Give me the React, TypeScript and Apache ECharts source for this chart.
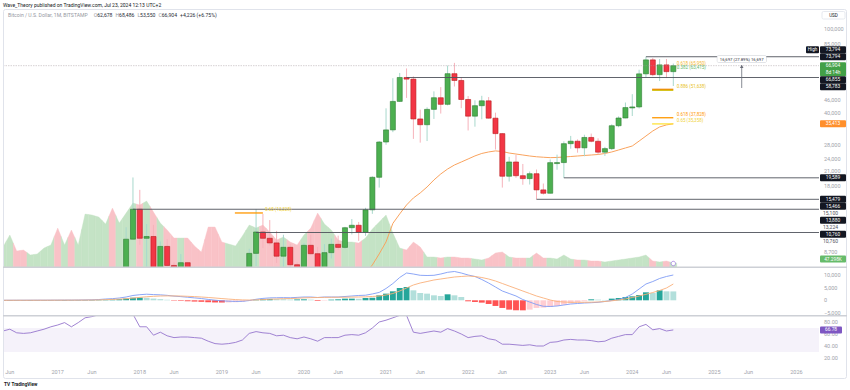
import React, { useEffect, useRef } from "react";
import * as echarts from "echarts";

const FONT = 'Roboto, "Liberation Sans", Arial, sans-serif';

// ---------------- data (month index: 0 = Jan 2016, monthly BTC/USD) ----------------
const firstMonth = 4; // May 2016

const opens = [
  448, 529, 674, 624, 573, 609, 700, 742,
  966, 965, 1190, 1080, 1348, 2300, 2480, 2875, 4700, 4340, 6450, 10000,
  13880, 10100, 10300, 6900, 9240, 7500, 6400, 7730, 7030, 6630, 6370, 4040,
  3740, 3450, 3840, 4110, 5340, 8560, 10820, 10100, 9600, 8300, 9150, 7560,
  7190, 9350, 8530, 6410, 8630, 9450, 9140, 11340, 11650, 10780, 13800, 19700,
  28990, 33110, 45240, 58800, 57750, 37330, 35040, 41460, 47100, 43820, 61300, 56900,
  46200, 38480, 43160, 45530, 37650, 31790, 19930, 23300, 20050, 19420, 20490, 17160,
  16540, 23130, 23150, 28470, 29250, 27200, 30480, 29230, 25940, 26970, 34660, 37720,
  42280, 42580, 61180, 71300, 60650, 67500, 62678,
];
const highs = [
  553, 781, 704, 626, 628, 720, 755, 979,
  1161, 1211, 1290, 1350, 2760, 3000, 2950, 4750, 4980, 6470, 11400, 19666,
  17170, 11800, 11700, 9750, 10000, 7760, 8500, 7750, 7400, 6800, 6550, 4240,
  4100, 4200, 4140, 5640, 9000, 13880, 13200, 12330, 10950, 10500, 9500, 7750,
  9580, 10500, 9190, 9470, 10070, 10400, 11450, 12470, 12080, 14100, 19900, 29300,
  41950, 58350, 61780, 64900, 59500, 41330, 42400, 50500, 52900, 67000, 69000, 59100,
  47990, 45800, 48100, 47450, 40000, 31950, 24650, 25200, 22800, 20990, 21450, 18400,
  23960, 25250, 29200, 31000, 29850, 31400, 31800, 30200, 27500, 35200, 38400, 44700,
  48970, 64000, 73794, 72800, 71950, 72000, 68486,
];
const lows = [
  436, 519, 468, 465, 570, 605, 680, 740,
  751, 919, 880, 1060, 1345, 2100, 1830, 2690, 2980, 4100, 5500, 9950,
  9400, 5900, 6600, 6430, 7050, 5750, 6070, 5880, 6100, 6100, 3650, 3120,
  3350, 3380, 3750, 4090, 5330, 7450, 9070, 9330, 7710, 7300, 6520, 6430,
  6860, 8450, 3850, 6150, 8100, 8900, 8980, 10530, 9820, 10380, 13200, 17600,
  28130, 32300, 45000, 47000, 30000, 28800, 29300, 37330, 39600, 43300, 53250, 42000,
  32900, 34300, 37200, 37500, 26700, 17600, 18800, 19600, 18150, 18200, 15479, 16300,
  16500, 21400, 19589, 26950, 25800, 24800, 28900, 25300, 24900, 26550, 34100, 37600,
  38550, 41880, 59000, 59600, 56550, 58400, 53550,
];
const closes = [
  529, 674, 624, 573, 609, 700, 742, 966,
  965, 1190, 1080, 1348, 2300, 2480, 2875, 4700, 4340, 6450, 10000, 13880,
  10100, 10300, 6900, 9240, 7500, 6400, 7730, 7030, 6630, 6370, 4040, 3740,
  3450, 3840, 4110, 5340, 8560, 10820, 10100, 9600, 8300, 9150, 7560, 7190,
  9350, 8530, 6410, 8630, 9450, 9140, 11340, 11650, 10780, 13800, 19700, 28990,
  33110, 45240, 58800, 57750, 37330, 35040, 41460, 47100, 43820, 61300, 56900, 46200,
  38480, 43160, 45530, 37650, 31790, 19930, 23300, 20050, 19420, 20490, 17160, 16540,
  23130, 23150, 28470, 29250, 27200, 30480, 29230, 25940, 26970, 34660, 37720, 42280,
  42580, 61180, 71300, 60650, 67500, 62678, 66904,
];
// volume, thousands of BTC
const volumesK = [
  236, 378, 189, 200, 142, 153, 224, 260,
  460, 260, 437, 260, 625, 614, 590, 507, 696, 519, 637, 755,
  732, 779, 649, 519, 437, 342, 342, 342, 248, 177, 472, 472,
  295, 271, 248, 366, 496, 460, 496, 413, 319, 354, 295, 260,
  378, 460, 637, 507, 437, 319, 295, 295, 283, 342, 448, 531,
  614, 401, 224, 200, 295, 236, 118, 118, 106, 118, 118, 106,
  106, 94, 83, 106, 165, 177, 118, 106, 106, 106, 165, 106,
  106, 94, 142, 94, 83, 83, 71, 71, 59, 71, 83, 94,
  106, 118, 142, 71, 59, 71, 47.298,
];
const maFirstMonth = 56;
const maValues = [
  6300, 6900, 7540, 8510, 9710, 11890, 13190, 14550, 15710, 16600, 17720, 19130, 20430, 21570,
  22540, 23290, 24080, 24900, 25580, 26000, 26300, 26130, 25700, 25420, 25150, 24880, 24670,
  24540, 24430, 24480, 24610, 24740, 24880, 25020, 25150, 25290, 25570, 26000, 26570, 27160,
  27760, 29300, 30960, 32720, 34200, 34960, 35413,
];
const macdLine = [
  10, 20, 30, 35, 40, 45, 50, 60, 70, 80, 90, 110, 150,
  200, 300, 500, 650, 900, 1300, 1900, 2200, 2400, 2250, 2150, 1950, 1650, 1450, 1200, 950, 700,
  350, 50, -200, -350, -450, -400, -100, 400, 750, 950, 1000, 1050, 1000, 1150,
  1300, 1300, 1100, 1300, 1300, 1300, 1500, 1700, 1900, 2000,
  2500, 3100, 4650, 6600, 9000, 10750, 10350, 9850, 9770, 9850,
  10350, 11030, 11350, 10750, 9970, 9380, 8200, 6800, 5240, 3660,
  2680, 1700, 300, -670, -1650, -2360, -2440, -2250, -1850, -1460,
  -1260, -1060, -950, -790, -470, -80, 300, 1100, 2480, 4450,
  6420, 7400, 8600, 9380, 9970,
];
const macdSignal = [
  5, 10, 15, 20, 25, 30, 35, 40, 45, 55, 60, 70, 85, 110, 150,
  250, 350, 460, 630, 880, 1150, 1400, 1570, 1690, 1740, 1720, 1670, 1575, 1450, 1300,
  1110, 900, 680, 475, 290, 150, 100, 160, 280, 410, 530, 630, 700, 800,
  950, 1050, 1100, 1150, 1180, 1200, 1220, 1260, 1300, 1350,
  1500, 1690, 2090, 2680, 3660, 4850, 6030, 6820, 7400, 8000,
  8390, 8790, 9180, 9380, 9570, 9380, 8980, 8390, 7600, 6620,
  5630, 4650, 3660, 2680, 1690, 900, 120, -470, -670, -790,
  -790, -790, -750, -670, -470, -200, 120, 510, 1100, 1690,
  2360, 3070, 3860, 4850, 6420,
];
const macdHist = [
  5, 10, 15, 15, 15, 15, 15, 20, 25, 25, 30, 40, 65,
  100, 150, 250, 300, 440, 670, 1020, 1050, 1000, 680, 460, 210, -70, -220, -375, -500, -600,
  -760, -850, -880, -825, -740, -550, -200, 240, 470, 540, 470, 420, 300, 350,
  393, 262, -262, -131, 262, 393, 655, 655, 600, 917,
  1000, 1965, 2620, 3537, 4847, 5240, 3930, 2882, 2620, 1965,
  1703, 2358, 1965, 1310, -393, -655, -917, -1441, -2227, -3013,
  -3668, -3930, -3950, -3668, -3013, -2882, -2620, -2227, -1703, -1179,
  -786, -393, 393, 262, 131, 655, 917, 1310, 1572, 2096,
  3144, 2882, 3930, 3537, 3500,
];
const rsiValues = [
  65, 68, 62, 61, 62, 65, 68, 72,
  75, 79, 72, 79, 87, 89, 92, 94, 91, 94, 96, 93,
  72, 72, 58, 63, 57, 54, 55, 55, 54, 53, 48, 44,
  43, 44, 46, 50, 61, 64, 62, 61, 57, 58, 54, 52,
  55, 52, 48, 54, 54, 54, 58, 59, 58, 62, 70, 80,
  83, 87, 91, 91, 63, 61, 63, 65, 63, 69, 65, 60,
  54, 56, 57, 52, 50, 43, 43, 42, 41, 42, 40, 40,
  46, 47, 50, 51, 50, 50, 49, 47, 48, 53, 56, 59,
  59, 72, 76, 67, 69, 65, 66.78,
];

const priceTicks = [100000, 85000, 46000, 40000, 28000, 24000, 21000, 18000, 8700];
const macdTicks = [10000, 5000, 0, -5000];
const rsiTicks = [80, 60, 40, 20];
const xTickMonths = [5, 12, 17, 24, 29, 36, 41, 48, 53, 60, 65, 72, 77, 84, 89, 96, 101, 108, 113, 120];
const xTickLabels = ["Jun", "2017", "Jun", "2018", "Jun", "2019", "Jun", "2020", "Jun", "2021",
  "Jun", "2022", "Jun", "2023", "Jun", "2024", "Jun", "2025", "Jun", "2026"];

const rayStartMonths = [98, 63, 86, 82, 23, 41];
const rayPrices = [73794, 58783, 19589, 15479, 13880, 10760];
const lastPrice = 66904;

const labelPrices = [73794, 73794, 66904, 66855, 58783, 35413, 19589, 15479, 15466, 15100, 13880, 13224, 10760, 10760];
const labelKinds = ["high", "line", "last", "line", "line", "ma", "line", "line", "line", "plain", "line", "plain", "line", "plain"];
const countdown = "8d 14h";

const fibTexts = ["0.618 (65,950)", "0.382 (63,415)", "0.886 (51,638)", "0.618 (37,828)", "0.65 (35,358)", "0.65 (13,328)"];
const fibPrices = [65950, 63415, 51638, 37828, 35358, 13328];
const fibTextMonths = [102.5, 102.5, 102.5, 102.5, 102.5, 42.3];
const fibBarPrices = [51638, 51100, 37828, 35358, 13328];
const fibBarFrom = [98.9, 98.9, 98.9, 98.9, 37.9];
const fibBarTo = [102, 102, 102, 102, 42];

const measureMonth = 112;
const measureFrom = 52400;
const measureTo = 67400;
const measureText = "16,697 (27.89%) 16,697";

const headerText = "Wave_Theory published on TradingView.com, Jul 23, 2024 12:13 UTC+2";
const symbolText = "Bitcoin / U.S. Dollar, 1M, BITSTAMP";
const ohlcText = ["O", "62,678", "H", "68,486", "L", "53,550", "C", "66,904", "+4,226 (+6.75%)"];

// ---------------- styles ----------------
const UP = "#4caf50", UP_BORDER = "#2e7d32", DOWN = "#f23645", DOWN_BORDER = "#b71c1c";
const WICK_UP = "#a8d8cc", WICK_DOWN = "#f6b3bb";
const VOL_UP = "#c4e3c5", VOL_DOWN = "#f9c2c7";
const fibTextColors = ["#f5b82e", "#66bb6a", "#e8c21e", "#ff9800", "#f0d23a", "#f0d23a"];
const fibBarColors = ["#f57c00", "#d4bf10", "#ff9800", "#ffe33a", "#ff9800"];
const AXIS_TXT = "#a0a3ab";

const lg = (v: number) => Math.log10(v);
const LOG_MIN = 3.8677, LOG_MAX = 5.0999;
const fmt = (v: number) => Math.round(v).toLocaleString("en-US");

function histColor(i: number) {
  const v = macdHist[i];
  const p = i > 0 ? macdHist[i - 1] : 0;
  if (v >= 0) return v >= p ? "#26a69a" : "#b2dfdb";
  return v < p ? "#ff5252" : "#ffcdd2";
}

function buildOption() {
  const months = opens.map((_, i) => firstMonth + i);
  const gridBase = { left: 3, right: 31 };
  const xAx = (g: number) => ({
    type: "value", gridIndex: g, min: 4, max: 123.3,
    axisLine: { show: false }, axisTick: { show: false }, splitLine: { show: false },
    axisLabel: g === 2 ? {
      customValues: xTickMonths,
      formatter: (v: number) => xTickLabels[xTickMonths.indexOf(Math.round(v))] ?? "",
      color: AXIS_TXT, fontSize: 5.5, fontFamily: FONT, margin: 3,
    } : { show: false },
  });
  const yHidden = { axisLine: { show: false }, axisTick: { show: false }, splitLine: { show: false } };
  return {
    animation: false,
    grid: [
      { ...gridBase, top: 8, height: 259 },
      { ...gridBase, top: 268, height: 47 },
      { ...gridBase, top: 316, height: 50 },
    ],
    xAxis: [xAx(0), xAx(1), xAx(2)],
    yAxis: [
      {
        type: "value", gridIndex: 0, position: "right", min: LOG_MIN, max: LOG_MAX, ...yHidden,
        axisLabel: {
          customValues: priceTicks.map(lg),
          formatter: (v: number) => fmt(Math.pow(10, v)),
          color: AXIS_TXT, fontSize: 5.5, fontFamily: FONT, margin: 5,
        },
      },
      { type: "value", gridIndex: 0, min: 0, max: 3060, show: false, ...yHidden },
      {
        type: "value", gridIndex: 1, position: "right", min: -5792, max: 12726, ...yHidden,
        axisLabel: {
          customValues: macdTicks,
          formatter: (v: number) => (v < 0 ? "\u2212" : "") + fmt(Math.abs(v)),
          color: AXIS_TXT, fontSize: 5.5, fontFamily: FONT, margin: 5,
        },
      },
      {
        type: "value", gridIndex: 2, position: "right", min: 6.67, max: 90, ...yHidden,
        axisLabel: {
          customValues: rsiTicks,
          formatter: (v: number) => v.toFixed(2),
          color: AXIS_TXT, fontSize: 5.5, fontFamily: FONT, margin: 5,
        },
      },
    ],
    series: [
      // volume area
      {
        type: "custom", xAxisIndex: 0, yAxisIndex: 1, clip: true, z: 1,
        data: volumesK.map((v, i) => [months[i], v, i > 0 ? volumesK[i - 1] : v, i < volumesK.length - 1 ? volumesK[i + 1] : v]),
        renderItem: (params: any, api: any) => {
          const x = api.value(0), v = api.value(1), pv = api.value(2), nv = api.value(3);
          const i = params.dataIndex;
          const col = closes[i] >= opens[i] ? VOL_UP : VOL_DOWN;
          const pts = [
            api.coord([x - 0.5, 0]), api.coord([x - 0.5, (v + pv) / 2]), api.coord([x, v]),
            api.coord([x + 0.5, (v + nv) / 2]), api.coord([x + 0.5, 0]),
          ];
          return { type: "polygon", shape: { points: pts }, style: { fill: col, stroke: col, lineWidth: 0.4 } };
        },
      },
      // moving average
      {
        type: "line", xAxisIndex: 0, yAxisIndex: 0, z: 3, symbol: "none",
        data: maValues.map((v, i) => [maFirstMonth + i, lg(v)]),
        lineStyle: { color: "#f9a35e", width: 1 },
      },
      // candles
      {
        type: "custom", xAxisIndex: 0, yAxisIndex: 0, clip: true, z: 4,
        data: opens.map((o, i) => [months[i], lg(o), lg(highs[i]), lg(lows[i]), lg(closes[i])]),
        renderItem: (params: any, api: any) => {
          const x = api.value(0);
          const o = api.coord([x, api.value(1)]);
          const h = api.coord([x, api.value(2)]);
          const l = api.coord([x, api.value(3)]);
          const c = api.coord([x, api.value(4)]);
          const up = api.value(4) >= api.value(1);
          const w = api.size([1, 0])[0] * 0.74;
          const top = Math.min(o[1], c[1]);
          const hgt = Math.max(Math.abs(o[1] - c[1]), 1);
          return {
            type: "group",
            children: [
              { type: "line", shape: { x1: o[0], y1: h[1], x2: o[0], y2: l[1] }, style: { stroke: up ? WICK_UP : WICK_DOWN, lineWidth: 1 } },
              { type: "rect", shape: { x: o[0] - w / 2, y: top, width: w, height: hgt }, style: { fill: up ? UP : DOWN, stroke: up ? UP_BORDER : DOWN_BORDER, lineWidth: 0.6 } },
            ],
          };
        },
      },
      // horizontal rays
      {
        type: "custom", xAxisIndex: 0, yAxisIndex: 0, clip: true, z: 5,
        data: rayStartMonths.map((m, i) => [m, lg(rayPrices[i])]),
        renderItem: (params: any, api: any) => {
          const p = api.coord([api.value(0), api.value(1)]);
          const cs = params.coordSys;
          return { type: "line", shape: { x1: p[0], y1: p[1], x2: cs.x + cs.width, y2: p[1] }, style: { stroke: "#4f525b", lineWidth: 0.9 } };
        },
      },
      // last price line
      {
        type: "custom", xAxisIndex: 0, yAxisIndex: 0, clip: true, z: 5,
        data: [[firstMonth, lg(lastPrice)]],
        renderItem: (params: any, api: any) => {
          const p = api.coord([api.value(0), api.value(1)]);
          const cs = params.coordSys;
          return { type: "line", shape: { x1: cs.x, y1: p[1], x2: cs.x + cs.width, y2: p[1] }, style: { stroke: "rgba(160,150,155,0.55)", lineWidth: 0.8, lineDash: [1.5, 1] } };
        },
      },
      // fib bars
      {
        type: "custom", xAxisIndex: 0, yAxisIndex: 0, clip: true, z: 6,
        data: fibBarPrices.map((p, i) => [fibBarFrom[i], lg(p), fibBarTo[i]]),
        renderItem: (params: any, api: any) => {
          const a = api.coord([api.value(0), api.value(1)]);
          const b = api.coord([api.value(2), api.value(1)]);
          return { type: "line", shape: { x1: a[0], y1: a[1], x2: b[0], y2: b[1] }, style: { stroke: fibBarColors[params.dataIndex], lineWidth: 1.3 } };
        },
      },
      // fib texts
      {
        type: "custom", xAxisIndex: 0, yAxisIndex: 0, clip: true, z: 6,
        data: fibPrices.map((p, i) => [fibTextMonths[i], lg(p)]),
        renderItem: (params: any, api: any) => {
          const a = api.coord([api.value(0), api.value(1)]);
          return {
            type: "text", x: a[0], y: a[1] - 3,
            style: { text: fibTexts[params.dataIndex], fill: fibTextColors[params.dataIndex], fontSize: 4.5, fontFamily: FONT, align: "left", verticalAlign: "middle" },
          };
        },
      },
      // measure tool
      {
        type: "custom", xAxisIndex: 0, yAxisIndex: 0, clip: true, z: 6,
        data: [[measureMonth, lg(measureFrom), lg(measureTo)]],
        renderItem: (params: any, api: any) => {
          const a = api.coord([api.value(0), api.value(1)]);
          const b = api.coord([api.value(0), api.value(2)]);
          return {
            type: "group",
            children: [
              { type: "line", shape: { x1: a[0], y1: a[1], x2: b[0], y2: b[1] }, style: { stroke: "#6a6d78", lineWidth: 0.8 } },
              { type: "polygon", shape: { points: [[b[0] - 1.8, b[1] + 3], [b[0], b[1]], [b[0] + 1.8, b[1] + 3]] }, style: { fill: "#6a6d78" } },
              {
                type: "text", x: b[0], y: b[1] - 6,
                style: {
                  text: measureText, fill: "#2a2e39", fontSize: 4.2, fontFamily: FONT, align: "center", verticalAlign: "middle",
                  backgroundColor: "#ffffff", borderColor: "#c9ccd3", borderWidth: 0.5, borderRadius: 1, padding: [1.2, 2.5],
                },
              },
            ],
          };
        },
      },
      // MACD histogram
      {
        type: "custom", xAxisIndex: 1, yAxisIndex: 2, clip: true, z: 2,
        data: macdHist.map((v, i) => [months[i], v]),
        renderItem: (params: any, api: any) => {
          const x = api.value(0), v = api.value(1);
          const p0 = api.coord([x, 0]);
          const p1 = api.coord([x, v]);
          const w = api.size([1, 0])[0] * 0.86;
          return {
            type: "rect",
            shape: { x: p0[0] - w / 2, y: Math.min(p0[1], p1[1]), width: w, height: Math.max(Math.abs(p1[1] - p0[1]), 0.4) },
            style: { fill: histColor(params.dataIndex) },
          };
        },
      },
      {
        type: "line", xAxisIndex: 1, yAxisIndex: 2, symbol: "none", z: 3,
        data: macdLine.map((v, i) => [months[i], v]),
        lineStyle: { color: "#7f9cf5", width: 0.9 },
      },
      {
        type: "line", xAxisIndex: 1, yAxisIndex: 2, symbol: "none", z: 3,
        data: macdSignal.map((v, i) => [months[i], v]),
        lineStyle: { color: "#f9b07a", width: 0.9 },
      },
      // RSI
      {
        type: "line", xAxisIndex: 2, yAxisIndex: 3, symbol: "none", z: 3,
        data: rsiValues.map((v, i) => [months[i], v]),
        lineStyle: { color: "#9575cd", width: 0.9 },
        markArea: { silent: true, itemStyle: { color: "rgba(126,87,194,0.08)" }, data: [[{ yAxis: 30 }, { yAxis: 70 }]] },
      },
    ],
  };
}

function txt(x: number, y: number, text: string, fill: string, size: number, align = "left", weight = "normal") {
  return {
    type: "text", x, y, z: 100,
    style: { text, fill, fontSize: size, fontFamily: FONT, fontWeight: weight, align, verticalAlign: "middle" },
  };
}

function buildGraphics(chart: any) {
  const els: any[] = [];
  const py = (v: number) => chart.convertToPixel({ yAxisIndex: 0 }, lg(v)) as number;
  const paneBottom = 267;
  const boxX = 820, boxW = 26, BH = 7;

  // frame + header
  els.push({ type: "rect", z: 99, shape: { x: 3.5, y: 9.5, width: 843, height: 369, r: 2 }, style: { fill: "none", stroke: "#e0e3eb", lineWidth: 1 } });
  els.push(txt(3, 4.5, headerText, "#131722", 5.0));
  els.push({
    type: "text", x: 8, y: 15, z: 100,
    style: {
      text: `{g|${symbolText}}  {g|${ohlcText[0]}}{v|${ohlcText[1]}} {g|${ohlcText[2]}}{v|${ohlcText[3]}} {g|${ohlcText[4]}}{v|${ohlcText[5]}} {g|${ohlcText[6]}}{v|${ohlcText[7]}} {v|${ohlcText[8]}}`,
      fontFamily: FONT, verticalAlign: "middle", align: "left",
      rich: { g: { fill: "#9598a1", fontSize: 5.1, fontFamily: FONT }, v: { fill: "#2a2e39", fontSize: 5.1, fontFamily: FONT } },
    },
  });
  // USD box
  els.push({ type: "rect", z: 100, shape: { x: 822, y: 11.5, width: 23, height: 7.5, r: 1.5 }, style: { fill: "#fff", stroke: "#e0e3eb", lineWidth: 0.8 } });
  els.push(txt(833.5, 15.3, "USD", "#131722", 4.6, "center"));
  // pane separators
  els.push({ type: "rect", z: 100, shape: { x: 3, y: 266.6, width: 844, height: 1.4 }, style: { fill: "#cdd0d6" } });
  els.push({ type: "rect", z: 100, shape: { x: 3, y: 315, width: 844, height: 1.4 }, style: { fill: "#cdd0d6" } });
  // TradingView logo
  els.push(txt(4, 384.5, "TV", "#131722", 4.8, "left", "bold"));
  els.push(txt(11.5, 384.5, "TradingView", "#131722", 4.6, "left", "bold"));
  // event marker
  const evX = chart.convertToPixel({ xAxisIndex: 0 }, firstMonth + opens.length - 1) as number;
  els.push({ type: "circle", z: 100, shape: { cx: evX, cy: 263.5, r: 2.2 }, style: { fill: "#fff", stroke: "#a07be0", lineWidth: 0.8 } });

  // ---- price labels with stacking ----
  type Lab = { target: number; h: number; kind: string; text: string[]; top: number };
  const labs: Lab[] = labelPrices.map((p, i) => {
    const kind = labelKinds[i];
    const h = kind === "last" ? BH * 2 : BH;
    return { target: py(p), h, kind, text: kind === "last" ? [fmt(p), countdown] : [fmt(p)], top: 0 };
  });
  const lastVol = volumesK[volumesK.length - 1];
  labs.push({ target: chart.convertToPixel({ yAxisIndex: 1 }, lastVol) as number, h: BH, kind: "vol", text: [lastVol.toFixed(3) + "K"], top: 0 });
  const main = labs.find((l) => l.kind === "last")!;
  main.top = main.target - BH / 2;
  const above = labs.filter((l) => l !== main && l.target < main.target)
    .sort((a, b) => b.target - a.target || (a.kind === "high" ? 1 : -1));
  let limit = main.top;
  for (const l of above) { l.top = Math.min(l.target - BH / 2, limit - l.h); limit = l.top; }
  const below = labs.filter((l) => l !== main && l.target >= main.target).sort((a, b) => a.target - b.target);
  limit = main.top + main.h;
  for (const l of below) {
    l.top = Math.max(l.target - BH / 2, limit);
    l.top = Math.min(l.top, paneBottom - 4.5 - l.h);
    limit = l.top + l.h;
  }
  for (const l of labs) {
    if (l.kind === "plain") {
      els.push(txt(boxX + 3, l.top + BH / 2, l.text[0], "#50535e", 5, "left"));
      continue;
    }
    const fill = l.kind === "last" ? "#43a047" : l.kind === "ma" ? "#ff8f2b" : l.kind === "vol" ? "#66bb6a" : "#131722";
    els.push({ type: "rect", z: 100, shape: { x: boxX, y: l.top, width: boxW, height: l.h, r: 1 }, style: { fill } });
    l.text.forEach((t, k) => els.push(txt(boxX + boxW / 2, l.top + BH / 2 + k * BH, t, "#ffffff", 4.8, "center")));
    if (l.kind === "high") {
      els.push({ type: "rect", z: 100, shape: { x: 806, y: l.top, width: 13, height: l.h, r: 1 }, style: { fill: "#131722" } });
      els.push(txt(812.5, l.top + BH / 2, "High", "#ffffff", 4.6, "center"));
    }
  }
  // RSI last value label
  const lastRsi = rsiValues[rsiValues.length - 1];
  const ry = chart.convertToPixel({ yAxisIndex: 3 }, lastRsi) as number;
  els.push({ type: "rect", z: 100, shape: { x: boxX, y: ry - BH / 2, width: boxW - 4, height: BH, r: 1 }, style: { fill: "#7e57c2" } });
  els.push(txt(boxX + (boxW - 4) / 2, ry, lastRsi.toFixed(2), "#ffffff", 4.8, "center"));
  return els;
}

export default function App() {
  const ref = useRef<HTMLDivElement>(null);
  useEffect(() => {
    const el = ref.current;
    if (!el) return;
    const chart = echarts.init(el, null, { renderer: "svg" });
    chart.setOption(buildOption() as any);
    chart.setOption({ graphic: { elements: buildGraphics(chart) } } as any);
    return () => chart.dispose();
  }, []);
  return (
    <div style={{ position: "fixed", left: 0, top: 0, width: 850, height: 390, background: "#ffffff" }}>
      <div ref={ref} style={{ width: 850, height: 390 }} />
    </div>
  );
}
